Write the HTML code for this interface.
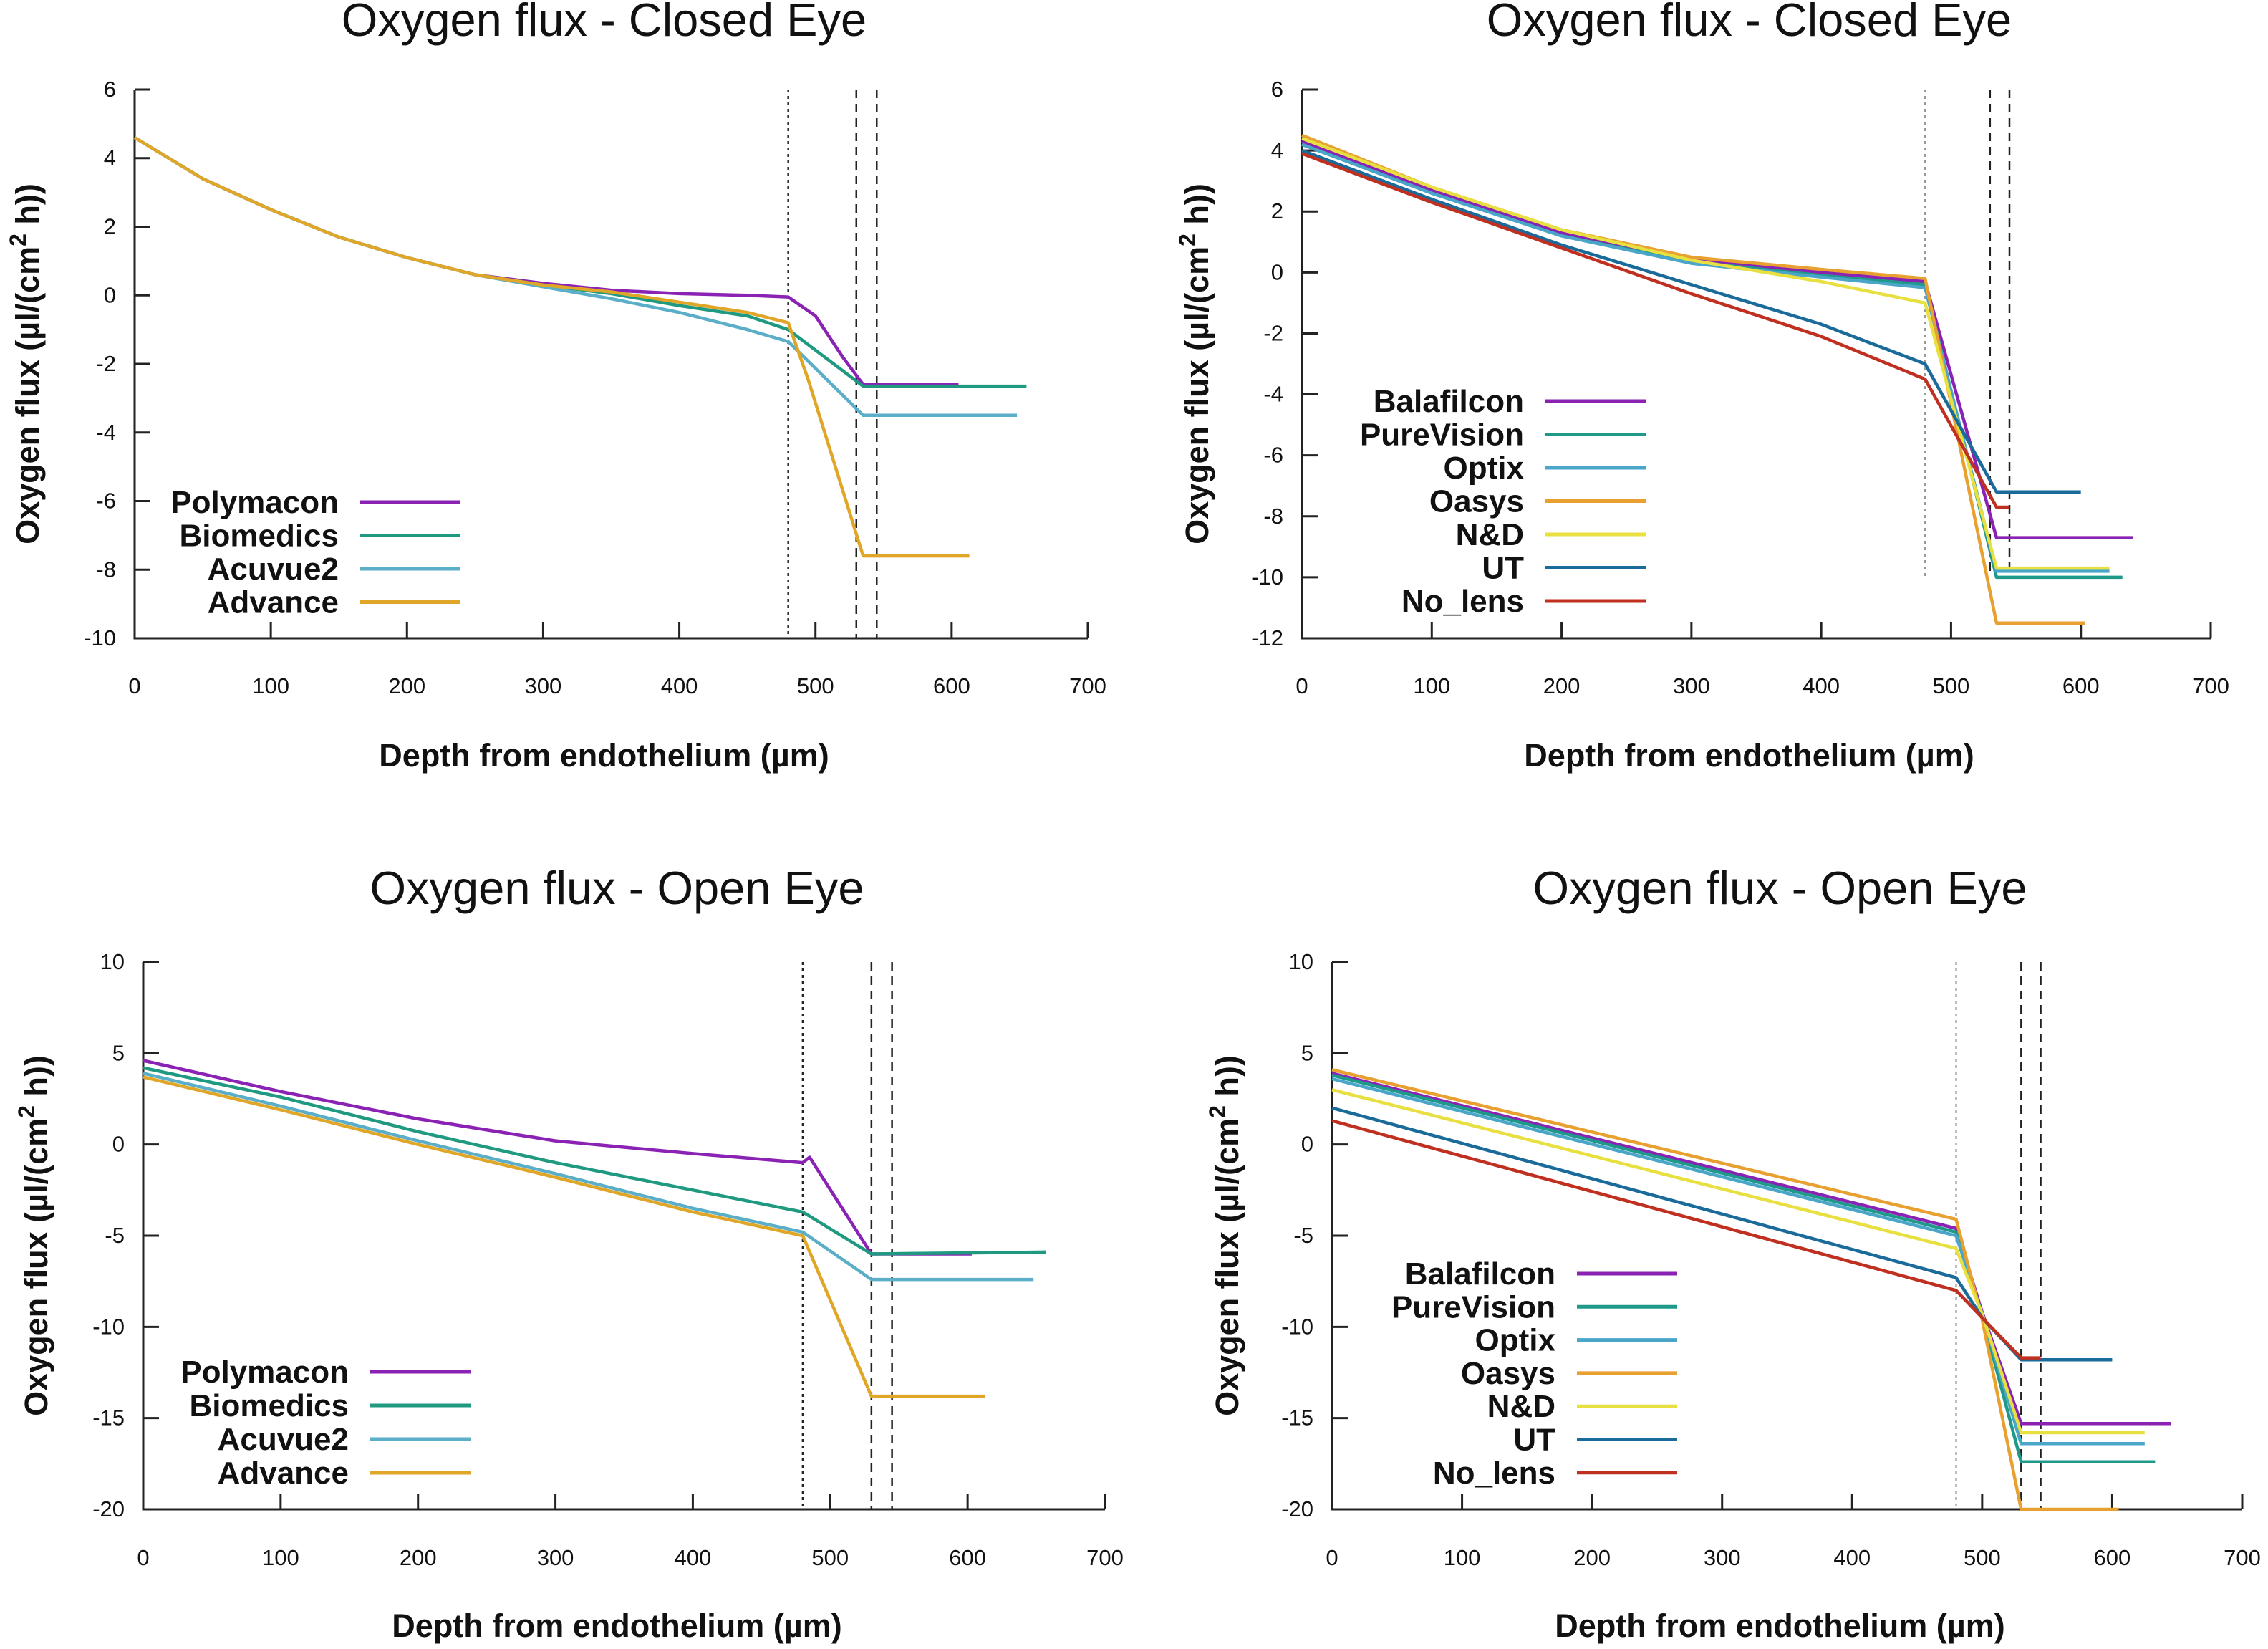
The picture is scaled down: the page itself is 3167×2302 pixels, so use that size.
<!DOCTYPE html>
<html><head><meta charset="utf-8"><style>
html,body{margin:0;padding:0;background:#fff}
svg{display:block;font-family:"Liberation Sans",sans-serif}
</style></head><body>
<svg id="c" width="3167" height="2302" viewBox="0 0 3167 2302" xmlns="http://www.w3.org/2000/svg"></svg>
<script>
// ---- shared data ----
const xTicks = [0,100,200,300,400,500,600,700];
const yTicksClosedA = [6,4,2,0,-2,-4,-6,-8,-10];
const yTicksClosedB = [6,4,2,0,-2,-4,-6,-8,-10,-12];
const yTicksOpen = [10,5,0,-5,-10,-15,-20];
const layerLines = [480,530,545];

// Panel A: closed eye, hydrogel lenses
const namesA = ["Polymacon","Biomedics","Acuvue2","Advance"];
const colorsA = ["#8a22b4","#1f9a80","#5aaec8","#e0a628"];
const xsA = [
 [0,50,100,150,200,250,300,350,400,450,480,500,520,535,605],
 [0,50,100,150,200,250,300,350,400,450,480,535,655],
 [0,50,100,150,200,250,300,350,400,450,480,535,648],
 [0,50,100,150,200,250,300,350,400,450,480,495,535,613]];
const ysA = [
 [4.6,3.4,2.5,1.7,1.1,0.6,0.35,0.15,0.05,0.0,-0.05,-0.6,-1.8,-2.6,-2.6],
 [4.6,3.4,2.5,1.7,1.1,0.6,0.3,0.05,-0.3,-0.6,-1.0,-2.65,-2.65],
 [4.6,3.4,2.5,1.7,1.1,0.6,0.25,-0.1,-0.5,-1.0,-1.35,-3.5,-3.5],
 [4.6,3.4,2.5,1.7,1.1,0.6,0.3,0.1,-0.2,-0.5,-0.8,-2.5,-7.6,-7.6]];

// Panel B: closed eye, silicone hydrogels
const namesB = ["Balafilcon","PureVision","Optix","Oasys","N&D","UT","No_lens"];
const colorsB = ["#8a22b4","#1f9a8a","#4aa6c8","#e8a030","#e8e040","#1a6a9a","#c03020"];
const xsB = [
 [0,100,200,300,400,480,535,640],
 [0,100,200,300,400,480,535,632],
 [0,100,200,300,400,480,535,622],
 [0,100,200,300,400,480,535,603],
 [0,100,200,300,400,480,535,622],
 [0,100,200,300,400,480,535,600],
 [0,100,200,300,400,480,535,545]];
const ysB = [
 [4.3,2.7,1.3,0.4,0.0,-0.3,-8.7,-8.7],
 [4.2,2.6,1.2,0.35,-0.1,-0.4,-10.0,-10.0],
 [4.2,2.6,1.2,0.3,-0.15,-0.5,-9.8,-9.8],
 [4.5,2.8,1.4,0.5,0.1,-0.2,-11.5,-11.5],
 [4.4,2.8,1.4,0.4,-0.3,-1.0,-9.7,-9.7],
 [4.0,2.4,0.9,-0.4,-1.7,-3.0,-7.2,-7.2],
 [3.9,2.3,0.8,-0.7,-2.1,-3.5,-7.7,-7.7]];

// Panel C: open eye, hydrogel lenses
const xsC = [
 [0,100,200,300,400,480,485,530,603],
 [0,100,200,300,400,480,530,657],
 [0,100,200,300,400,480,530,648],
 [0,100,200,300,400,480,530,613]];
const ysC = [
 [4.6,2.9,1.4,0.2,-0.5,-1.0,-0.7,-6.0,-6.0],
 [4.2,2.6,0.7,-1.0,-2.5,-3.7,-6.0,-5.9],
 [3.9,2.1,0.2,-1.6,-3.5,-4.8,-7.4,-7.4],
 [3.7,1.9,0.0,-1.8,-3.7,-5.0,-13.8,-13.8]];

// Panel D: open eye, silicone hydrogels
const xsD = [
 [0,480,500,530,645],
 [0,480,500,530,633],
 [0,480,500,530,625],
 [0,480,500,530,605],
 [0,480,500,530,625],
 [0,480,500,530,600],
 [0,480,500,530,545]];
const ysD = [
 [3.9,-4.6,-9.2,-15.3,-15.3],
 [3.8,-4.8,-9.4,-17.4,-17.4],
 [3.6,-5.0,-9.3,-16.4,-16.4],
 [4.1,-4.1,-9.6,-20.0,-20.0],
 [3.0,-5.7,-9.3,-15.8,-15.8],
 [2.0,-7.3,-9.5,-11.8,-11.8],
 [1.3,-8.0,-9.5,-11.7,-11.7]];

const NS="http://www.w3.org/2000/svg";
const svg=document.getElementById('c');
function el(tag,attrs,parent,text){
  const e=document.createElementNS(NS,tag);
  for(const k in attrs) e.setAttribute(k,attrs[k]);
  if(text!==undefined) e.textContent=text;
  (parent||svg).appendChild(e);return e;
}

function panel(p){
  const g=el('g',{});
  
  
  const ymax=p.yTicks[0], ymin=p.yTicks[p.yTicks.length-1];
  const sx=v=>p.x0+(v/700)*(p.x1-p.x0);
  const sy=v=>p.yTop+(ymax-v)/(ymax-ymin)*(p.yBot-p.yTop);
  const t=el('text',{x:(p.x0+p.x1)/2-10,y:p.titleY,'font-size':65,'text-anchor':'middle',fill:'#111'},g,p.title);
  
  
  const ax=el('path',{d:`M${p.x0} ${p.yTop} L${p.x0} ${p.yBot} L${p.x1} ${p.yBot}`,stroke:'#222','stroke-width':3,fill:'none'},g);
  
  
  xTicks.forEach(v=>{
    el('line',{x1:sx(v),x2:sx(v),y1:p.yBot,y2:p.yBot-22,stroke:'#222','stroke-width':3},g);
    const tl=el('text',{x:sx(v),y:p.xLabY,'font-size':31,'text-anchor':'middle',fill:'#111'},g,String(v));
    
    
  });
  p.yTicks.forEach(v=>{
    el('line',{x1:p.x0,x2:p.x0+22,y1:sy(v),y2:sy(v),stroke:'#222','stroke-width':3},g);
    const tl=el('text',{x:p.x0-26,y:sy(v)+10,'font-size':31,'text-anchor':'end',fill:'#111'},g,String(v));
    
    
  });
  layerLines.forEach((v,i)=>{
    const ln=el('line',{x1:sx(v),x2:sx(v),y1:p.yTop,y2:p.vBot||p.yBot,stroke:i==0?p.dotColor:'#222','stroke-width':2.5,'stroke-dasharray':i==0?'4 5':'12 8'},g);
    
    
  });
  p.xs.forEach((xs,i)=>{
    const d=xs.map((x,j)=>(j?'L':'M')+sx(x).toFixed(1)+' '+sy(p.ys[i][j]).toFixed(1)).join(' ');
    const s=el('path',{d,stroke:p.colors[i],'stroke-width':4.5,fill:'none','stroke-linejoin':'round'},g);
    
    
  });
  p.names.forEach((n,i)=>{
    const y=p.legY+i*p.legStep;
    const lt=el('text',{x:p.legTextX,y:y+15,'font-size':44,'font-weight':'bold','text-anchor':'end',fill:'#111'},g,n);
    
    
    el('line',{x1:p.legTextX+30,x2:p.legTextX+170,y1:y,y2:y,stroke:p.colors[i],'stroke-width':5},g);
  });
  const xt=el('text',{x:(p.x0+p.x1)/2-10,y:p.xTitleY,'font-size':45,'font-weight':'bold','text-anchor':'middle',fill:'#111'},g,'Depth from endothelium (\u00b5m)');
  
  
  const cy=(p.yTop+p.yBot)/2;
  const yt=el('text',{x:0,y:0,'font-size':45,'font-weight':'bold','text-anchor':'middle',fill:'#111',transform:`translate(${p.yTitleX},${cy}) rotate(-90)`},g);
  yt.innerHTML='Oxygen flux (\u00b5l/(cm<tspan dy="-18" font-size="32">2</tspan><tspan dy="18"> h))</tspan>';
  
  
}

panel({id:'panel-closed-hydrogel',title:'Oxygen flux - Closed Eye',x0:188,x1:1519,yTop:125,yBot:891,yTicks:yTicksClosedA,
 titleY:50,xLabY:968,xTitleY:1070,yTitleX:54,xs:xsA,ys:ysA,names:namesA,colors:colorsA,
 legY:701,legStep:46.5,legTextX:473,dotColor:'#222'});
panel({id:'panel-closed-silicone',title:'Oxygen flux - Closed Eye',x0:1818,x1:3087,yTop:125,yBot:891,yTicks:yTicksClosedB,
 titleY:50,xLabY:968,xTitleY:1070,yTitleX:1687,xs:xsB,ys:ysB,names:namesB,colors:colorsB,
 legY:560,legStep:46.5,legTextX:2128,dotColor:'#999',vBot:806});
panel({id:'panel-open-hydrogel',title:'Oxygen flux - Open Eye',x0:200,x1:1543,yTop:1343,yBot:2107,yTicks:yTicksOpen,
 titleY:1262,xLabY:2185,xTitleY:2285,yTitleX:66,xs:xsC,ys:ysC,names:namesA,colors:colorsA,
 legY:1915,legStep:47,legTextX:487,dotColor:'#222'});
panel({id:'panel-open-silicone',title:'Oxygen flux - Open Eye',x0:1860,x1:3131,yTop:1343,yBot:2107,yTicks:yTicksOpen,
 titleY:1262,xLabY:2185,xTitleY:2285,yTitleX:1729,xs:xsD,ys:ysD,names:namesB,colors:colorsB,
 legY:1778,legStep:46.3,legTextX:2172,dotColor:'#aaa'});
</script>
</body></html>
